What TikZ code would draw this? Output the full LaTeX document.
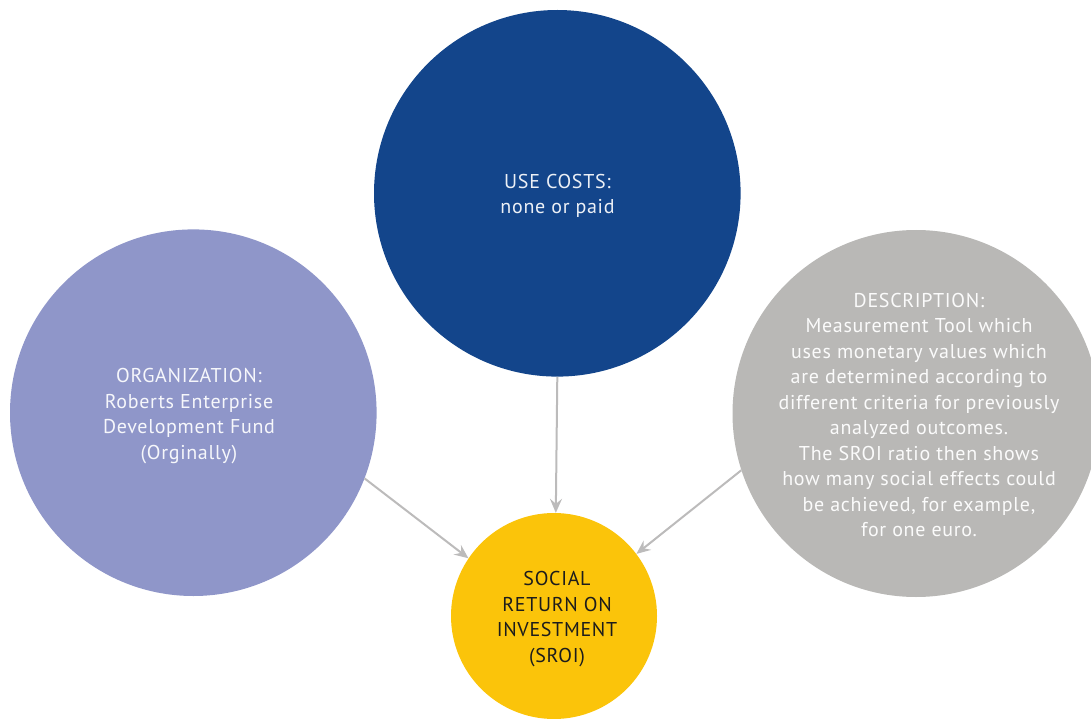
\documentclass[tikz,border=0pt]{standalone}
\usepackage{fontspec}
\setmainfont[LetterSpace=3.5]{PT Sans}
\usetikzlibrary{arrows.meta}
\definecolor{cblue}{HTML}{13458B}
\definecolor{cpurple}{HTML}{8F96C9}
\definecolor{cgray}{HTML}{B9B8B6}
\definecolor{cyellow}{HTML}{FBC40A}
\definecolor{carrow}{HTML}{BCBBBB}
\definecolor{ctext}{HTML}{1C1C1C}
\tikzset{
  bubble/.style={circle, inner sep=0pt, draw=none},
  txt/.style={align=center, font=\fontsize{20pt}{25.5pt}\selectfont, inner sep=0pt},
  conn/.style={draw=carrow, line width=2pt, -{Stealth[length=14pt, width=12pt, inset=5pt]}}
}
\begin{document}
\begin{tikzpicture}[x=1pt, y=-1pt]
\useasboundingbox (0,0) rectangle (1091,719);
\begin{scope}
\clip (0,0) rectangle (1091,719);
\node[bubble, fill=cblue, minimum size=366.6pt] (blue) at (557.3,193.3) {};
\node[bubble, fill=cpurple, minimum size=366.6pt] (purple) at (193.3,412.7) {};
\node[bubble, fill=cgray, minimum size=367pt] (gray) at (916,413.5) {};
\node[bubble, fill=cyellow, minimum size=206pt] (yellow) at (554,616) {};
\end{scope}
\node[txt, text=white!92!cblue] (tblue) at (557.5,196) {USE COSTS:\\ none or paid};
\node[txt, text=white!92!cpurple] (tpurple) at (189,416) {ORGANIZATION:\\ Roberts Enterprise\\ Development Fund\\ (Orginally)};
\node[txt, text=white!94!cgray] (tgray) at (919,415) {DESCRIPTION:\\ Measurement Tool which\\ uses monetary values which\\ are determined according to\\ different criteria for previously\\ analyzed outcomes.\\ The SROI ratio then shows\\ how many social effects could\\ be achieved, for example,\\ for one euro.};
\node[txt, text=ctext] (tyellow) at (557,619) {SOCIAL\\ RETURN ON\\ INVESTMENT\\ (SROI)};
\draw[conn] (blue.-90) -- (yellow.89.4);
\draw[conn] (purple.-21.4) -- (yellow.146.6);
\draw[conn] (gray.198) -- (yellow.37.6);
\end{tikzpicture}
\end{document}
